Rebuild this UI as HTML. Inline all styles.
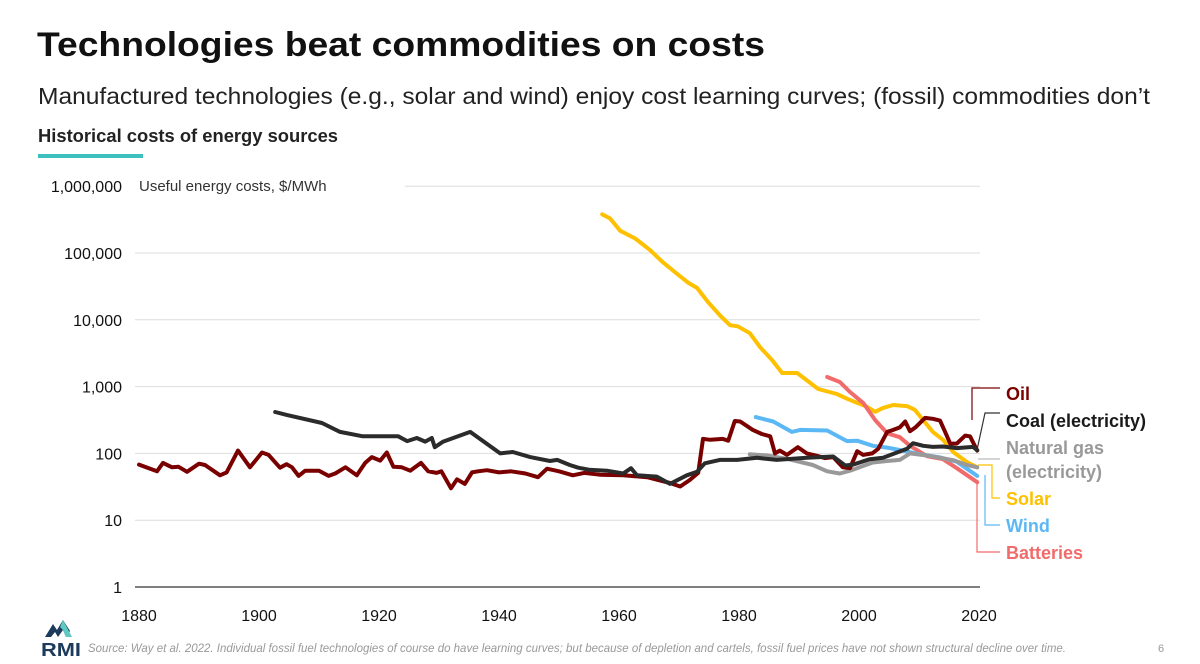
<!DOCTYPE html>
<html><head><meta charset="utf-8"><style>
html,body{margin:0;padding:0;background:#fff;width:1200px;height:664px;overflow:hidden}
svg{display:block;font-family:"Liberation Sans",sans-serif}
</style></head><body>
<svg id="chart" width="1200" height="664" viewBox="0 0 1200 664">
<text x="37" y="56" font-size="34" font-weight="bold" fill="#111" textLength="728" lengthAdjust="spacingAndGlyphs">Technologies beat commodities on costs</text>
<text x="38" y="104" font-size="23" fill="#222" textLength="1112" lengthAdjust="spacingAndGlyphs">Manufactured technologies (e.g., solar and wind) enjoy cost learning curves; (fossil) commodities don’t</text>
<text x="38" y="142" font-size="18" font-weight="bold" fill="#222" textLength="300" lengthAdjust="spacingAndGlyphs">Historical costs of energy sources</text>
<rect x="38" y="154" width="105" height="4" fill="#3cc1bf"/>
<text x="139" y="191" font-size="15" fill="#333">Useful energy costs, $/MWh</text>
<g id="grid"></g>
<g id="yticks"></g>
<g id="xticks"></g>
<g id="connectors"></g>
<g id="series"></g>
<g id="labels"></g>
<g>
<polygon points="45,637 53,624 57,630 63,620 70,631 66,637 63,630 58,637 55,632 51,637" fill="#1b3a5c"/>
<polygon points="63,620 72,637 66,637 63,630 60,627" fill="#5fc9c3"/>
<text x="41" y="656" font-size="18" font-weight="bold" fill="#1b3a5c" textLength="40" lengthAdjust="spacingAndGlyphs">RMI</text>
</g>
<text x="88" y="652" font-size="12" font-style="italic" fill="#999" textLength="978" lengthAdjust="spacingAndGlyphs">Source: Way et al. 2022. Individual fossil fuel technologies of course do have learning curves; but because of depletion and cartels, fossil fuel prices have not shown structural decline over time.</text>
<text x="1158" y="652" font-size="11" fill="#999">6</text>
</svg>
<script>
const yTicks=[1,10,100,1000,10000,100000,1000000];
const yTickLabels=["1","10","100","1,000","10,000","100,000","1,000,000"];
const xTicks=[1880,1900,1920,1940,1960,1980,2000,2020];
const oilYears=[1880,1883,1884,1885.5,1886.6,1888,1890,1891,1893.5,1894.6,1896.5,1898.5,1900.5,1901.6,1903.5,1904.6,1905.5,1906.6,1907.7,1910,1911.6,1912.7,1914.4,1916.3,1917.7,1918.8,1920.2,1921.3,1922.4,1923.8,1925.2,1927,1928.2,1929.6,1930.4,1932,1933,1934.3,1935.5,1936.5,1938,1940,1942,1944.4,1946.5,1948,1950,1952.3,1954.2,1956.8,1960.7,1964.7,1968.5,1970.2,1971.8,1973.2,1974,1975.2,1977.3,1978.2,1979.3,1980.2,1982.3,1983.8,1985.2,1986,1986.8,1988,1989.8,1991.3,1993,1994.3,1995.7,1997.3,1998.5,1999.7,2000.7,2002.2,2003.2,2004.7,2005.7,2006.8,2007.7,2008.5,2009.4,2011,2012.3,2013.5,2014.3,2015.2,2016.3,2017.7,2018.5,2019.7];
const oilValues=[68,54,72,62,63,53,70,67,47,52,110,62,103,95,61,69,62,46,55,55,46,50,62,47,72,88,78,103,63,62,55,72,54,51,54,30,41,35,52,54,56,52,54,50,44,59,54,47,51,48,47,44,36,32,40,51,165,160,165,155,305,300,225,195,180,100,110,95,124,100,92,85,88,62,60,108,95,100,117,210,225,245,300,215,245,340,330,310,215,140,140,185,180,110];
const coalYears=[1902.7,1904.7,1910.5,1913.5,1917.3,1923.2,1924.7,1926.3,1927.7,1928.8,1929.3,1930.7,1935.2,1940.2,1942.3,1945.2,1948.5,1949.7,1951.8,1953.2,1955,1958,1960.7,1962,1963,1966.3,1968.5,1971.3,1973,1974.3,1976.8,1979.7,1983,1986.3,1991.3,1995.7,1997.7,1999,2001.8,2004,2008,2009,2010.7,2012.3,2014,2016.3,2019,2019.7];
const coalValues=[417,375,285,210,180,180,153,170,150,170,124,150,210,100,105,88,77,80,67,61,57,55,50,60,47,45,35,47,53,71,80,80,86,80,86,90,66,68,82,86,117,142,130,125,127,120,125,112];
const gasYears=[1981.8,1984.7,1988,1992.3,1994.7,1996.8,1998.5,2000.7,2002.3,2004.7,2006.8,2008.5,2011.3,2013.5,2015.7,2018,2019.7];
const gasValues=[97,93,83,67,54,50,55,65,73,77,80,100,93,86,79,67,62];
const windYears=[1982.8,1985.7,1988.8,1990.2,1994.7,1998,1999.7,2002.3,2004.7,2007.3,2010.2,2013.5,2016.3,2019.7];
const windValues=[350,300,210,225,220,153,155,130,122,110,97,87,75,46];
const solarYears=[1957.2,1958.5,1960.2,1962.7,1965.2,1967.2,1969.3,1971.5,1973,1974.8,1976.8,1978.5,1979.8,1981.8,1983.5,1985.5,1987.2,1989.7,1993.2,1996.3,1998,1999.7,2001.3,2002.7,2004,2005.7,2008,2009.3,2010.7,2012.3,2014,2015.7,2018,2019.7];
const solarValues=[380000,330000,215000,165000,110000,74000,52000,36000,30000,18600,11700,8300,8000,6300,3900,2500,1600,1600,920,775,660,570,500,420,480,530,510,450,315,210,160,105,74,62];
const batYears=[1994.7,1996.8,1998.5,2000.7,2002.7,2004.7,2006.8,2008.5,2011.3,2014,2016.3,2019.7];
const batValues=[1390,1170,830,570,315,200,175,130,91,82,60,37];

const NS="http://www.w3.org/2000/svg";
const x=yr=>139+(yr-1880)*6;
const y=v=>587-66.8*Math.log10(v);
function mk(tag,attrs,parent){const e=document.createElementNS(NS,tag);for(const k in attrs)e.setAttribute(k,attrs[k]);parent.appendChild(e);return e;}
const grid=document.getElementById('grid'),yt=document.getElementById('yticks'),xt=document.getElementById('xticks');
yTicks.forEach((v,i)=>{
  const l=mk('line',{x1:i==6?405:135,x2:980,y1:y(v),y2:y(v),stroke:i==0?'#555':'#ddd','stroke-width':i==0?1.5:1},grid);
  
  
  const t=mk('text',{x:122,y:y(v)+6,'text-anchor':'end','font-size':16,fill:'#111'},yt);
  t.textContent=yTickLabels[i];
  
  
});
xTicks.forEach(v=>{
  const t=mk('text',{x:x(v),y:621,'text-anchor':'middle','font-size':16,fill:'#111'},xt);
  t.textContent=v;
  
  
});
const ser=document.getElementById('series');
function line(ys,vs,color,name){
  const d=ys.map((yr,i)=>(i?'L':'M')+x(yr).toFixed(1)+','+y(vs[i]).toFixed(1)).join('');
  const p=mk('path',{d:d,fill:'none',stroke:color,'stroke-width':4,'stroke-linejoin':'round','stroke-linecap':'round'},ser);
  
  
}
line(solarYears,solarValues,'#ffc000','solar-line');
line(batYears,batValues,'#f26b6b','batteries-line');
line(windYears,windValues,'#5cb8f5','wind-line');
line(gasYears,gasValues,'#999','natural-gas-line');
line(oilYears,oilValues,'#7a0000','oil-line');
line(coalYears,coalValues,'#2b2b2b','coal-line');
const con=document.getElementById('connectors');
[["M972,420V388H1000",'#7a0000'],["M977,450L985,413H1000",'#333'],["M978,459H1000",'#bbb'],["M978,465H992V498H1000",'#ffc000'],["M985,475V525H1000",'#5cb8f5'],["M977,480V552H1000",'#f26b6b']].forEach(c=>{
  const p=mk('path',{d:c[0],fill:'none',stroke:c[1],'stroke-width':1.2},con);
  
  
});
const lab=document.getElementById('labels');
[["Oil",400,'#7a0000','oil-label'],["Coal (electricity)",427,'#1a1a1a','coal-label'],["Natural gas",454,'#999','natural-gas-label'],["(electricity)",478,'#999','natural-gas-label-2'],["Solar",505,'#ffc000','solar-label'],["Wind",532,'#5cb8f5','wind-label'],["Batteries",559,'#f26b6b','batteries-label']].forEach(l=>{
  const t=mk('text',{x:1006,y:l[1],'font-size':18,'font-weight':'bold',fill:l[2]},lab);
  t.textContent=l[0];
  
  
});
</script>
</body></html>
